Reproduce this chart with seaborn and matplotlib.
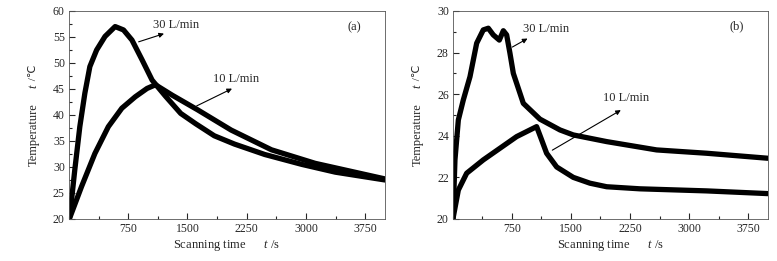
import numpy as np
import pandas as pd
import seaborn as sns
import matplotlib.pyplot as plt
from matplotlib.ticker import MultipleLocator

# --- values ---
# panel (a)
a30_t = [0, 9, 73, 137, 201, 264, 350, 456, 584, 690, 797, 925, 1052, 1222, 1414, 1605, 1839,
         2095, 2478, 2946, 3372, 4000]
a30_T = [20, 20.4, 29.4, 37.75, 44.2, 49.3, 52.5, 55.1, 57.0, 56.35, 54.4, 50.6, 46.7, 43.6, 40.3,
         38.3, 36.0, 34.4, 32.4, 30.5, 29.0, 27.5]
a10_t = [0, 9, 158, 328, 498, 669, 839, 988, 1094, 1116, 1307, 1627, 2052, 2563, 3116, 4000]
a10_T = [20, 20.2, 26.2, 32.6, 37.75, 41.3, 43.5, 45.1, 45.8, 45.6, 43.8, 41.0, 37.1, 33.3, 30.7, 27.7]
# panel (b)
b30_t = [0, 4, 25, 68, 131, 216, 301, 385, 449, 512, 589, 640, 682, 724, 767, 894, 1105, 1360,
         1529, 1953, 2588, 3224, 4000]
b30_T = [20, 20.43, 22.84, 24.76, 25.72, 26.84, 28.45, 29.09, 29.17, 28.85, 28.6, 29.05, 28.85,
         27.97, 27.0, 25.56, 24.8, 24.28, 24.04, 23.72, 23.32, 23.16, 22.92]
b10_t = [0, 4, 68, 174, 385, 597, 809, 978, 1063, 1127, 1190, 1318, 1529, 1741, 1953, 2376, 3224, 4000]
b10_T = [20, 20.1, 21.39, 22.2, 22.84, 23.4, 23.96, 24.28, 24.44, 23.8, 23.16, 22.5, 22.0,
         21.72, 21.55, 21.45, 21.35, 21.22]

series = {
    'a': [(a30_t, a30_T), (a10_t, a10_T)],
    'b': [(b30_t, b30_T), (b10_t, b10_T)],
}

sns.set_style('ticks')
plt.rcParams['font.family'] = ['Liberation Serif', 'DejaVu Sans']
plt.rcParams['mathtext.fontset'] = 'custom'
plt.rcParams['mathtext.it'] = 'Liberation Serif:italic'
plt.rcParams['mathtext.rm'] = 'Liberation Serif'
plt.rcParams['xtick.direction'] = 'in'
plt.rcParams['ytick.direction'] = 'in'

fig = plt.figure(figsize=(7.77, 2.61), dpi=100)
ax_a = fig.add_axes([0.0888, 0.161, 0.4067, 0.797])
ax_b = fig.add_axes([0.583, 0.161, 0.405, 0.797])

for ax, key in ((ax_a, 'a'), (ax_b, 'b')):
    for t, T in series[key]:
        df = pd.DataFrame({'t': t, 'T': T})
        sns.lineplot(data=df, x='t', y='T', ax=ax, color='black', lw=3.8,
                     sort=False, solid_joinstyle='round', solid_capstyle='round')
    ax.set_xlim(0, 4000)
    ax.set_xticks([750, 1500, 2250, 3000, 3750])
    ax.xaxis.set_minor_locator(MultipleLocator(375))
    ax.tick_params(which='major', length=4, width=0.8, labelsize=8.5, pad=3)
    ax.tick_params(which='minor', length=2.5, width=0.8)
    for s in ax.spines.values():
        s.set_linewidth(0.6)
        s.set_color('#555555')
    ax.set_xlabel('Scanning time      $\\mathit{t}$ /s', fontsize=9, labelpad=2)
    ax.set_ylabel('')
    # y label: "Temperature      t /℃" built from pieces so ℃ can fall back to DejaVu
    ax.text(-0.112, 0.405, 'Temperature', transform=ax.transAxes, rotation=90,
            fontsize=9, ha='center', va='center')
    ax.text(-0.112, 0.632, 't', transform=ax.transAxes, rotation=90,
            fontsize=9, style='italic', ha='center', va='bottom')
    ax.text(-0.112, 0.655, ' /\u2103', transform=ax.transAxes, rotation=90,
            fontsize=8, ha='center', va='bottom')

ax_a.set_ylim(20, 60)
ax_a.yaxis.set_major_locator(MultipleLocator(5))
ax_a.yaxis.set_minor_locator(MultipleLocator(2.5))
ax_b.set_ylim(20, 30)
ax_b.yaxis.set_major_locator(MultipleLocator(2))
ax_b.yaxis.set_minor_locator(MultipleLocator(1))

arrow = dict(arrowstyle='-|>', color='black', lw=0.8, mutation_scale=7)
ax_a.annotate('', xy=(1236, 55.8), xytext=(848, 53.9), arrowprops=arrow)
ax_a.text(1069, 57.3, '30 L/min', fontsize=9, va='center')
ax_a.annotate('', xy=(2095, 45.3), xytext=(1584, 41.5), arrowprops=arrow)
ax_a.text(1822, 46.9, '10 L/min', fontsize=9, va='center')
ax_a.text(3520, 56.9, '(a)', fontsize=9, va='center')

ax_b.annotate('', xy=(978, 28.74), xytext=(724, 28.2), arrowprops=arrow)
ax_b.text(889, 29.13, '30 L/min', fontsize=9, va='center')
ax_b.annotate('', xy=(2164, 25.3), xytext=(1232, 23.24), arrowprops=arrow)
ax_b.text(1906, 25.8, '10 L/min', fontsize=9, va='center')
ax_b.text(3520, 29.25, '(b)', fontsize=9, va='center')

fig.savefig('out.png', dpi=100)
